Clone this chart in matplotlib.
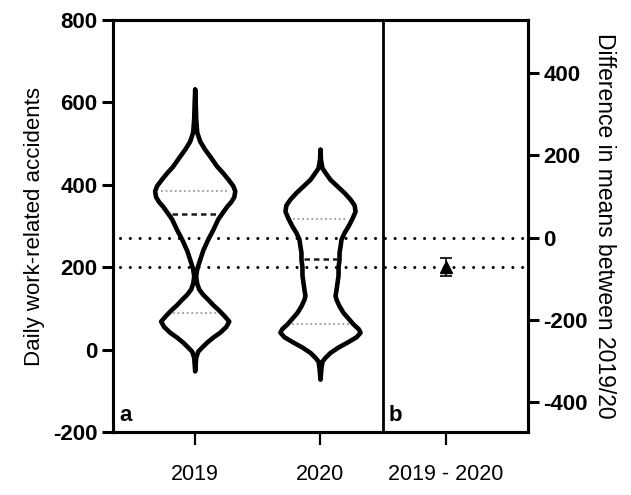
import numpy as np
import matplotlib
matplotlib.use("Agg")
import matplotlib.pyplot as plt

plt.rcParams['font.family'] = ['Liberation Sans', 'DejaVu Sans']
plt.rcParams['axes.unicode_minus'] = False

# ---- data ----
categories = ["2019", "2020", "2019 - 2020"]

# violin outlines: value levels and half-widths (in pixel-like units, /125 -> x units)
v2019_y = [631, 600, 560, 527, 505, 485, 465, 444, 428, 413, 397, 384, 370, 358, 347, 330,
           316, 290, 267, 240, 218, 195, 177, 160, 146, 133, 121, 108, 97, 82, 68, 55, 41,
           29, 17, 5, -5, -20, -53]
v2019_w = [0, 0.5, 1, 2, 5, 10, 16, 22, 28, 33, 38, 40, 39, 36, 32, 27,
           23, 18, 13, 8, 5, 2, 1, 2, 4, 8, 13, 18, 23, 29, 34, 31, 25,
           18, 12, 7, 3, 1, 0]
v2020_y = [485, 460, 440, 429, 412, 396, 380, 364, 350, 335, 318, 299, 283, 267, 250, 235,
           218, 200, 180, 162, 145, 130, 121, 105, 89, 75, 61, 50, 41, 30, 17, 5, -8, -20,
           -29, -45, -73]
v2020_w = [0, 0.5, 2, 5, 10, 17, 24, 30, 34, 35, 32, 28, 24, 21, 20, 19,
           19, 18, 18, 17, 16, 15, 16, 19, 23, 28, 33, 38, 40, 36, 27, 18, 10, 5,
           2, 1, 0]

quart2019 = [90, 330, 384]   # Q1, median, Q3
quart2020 = [61, 220, 317]

mean2019 = 272
mean2020 = 200
diff_mean = -72
diff_err = 22

W, H = 631, 495
fig = plt.figure(figsize=(W / 100, H / 100), dpi=100)
ax = fig.add_axes([113 / W, (H - 432) / H, (528 - 113) / W, (432 - 20) / H])

xmin, xmax = -0.656, 2.656
ax.set_xlim(xmin, xmax)
ax.set_ylim(-200, 800)

px = 125.0

def draw_violin(c, ys, ws, quarts):
    ys = np.array(ys, float)
    ws = np.array(ws, float) / px
    xs = np.concatenate([c + ws, (c - ws)[::-1]])
    yy = np.concatenate([ys, ys[::-1]])
    ax.plot(xs, yy, color='black', lw=3.3, solid_joinstyle='round', solid_capstyle='round', zorder=3)
    yi = ys[::-1]
    wi = ws[::-1]
    for k, q in enumerate(quarts):
        hw = np.interp(q, yi, wi) * 0.85
        if k == 1:
            ax.plot([c - hw, c + hw], [q, q], color='#1a1a1a', lw=1.8, ls=(0, (2.2, 1.6)), zorder=2)
        else:
            ax.plot([c - hw, c + hw], [q, q], color='#8a8a8a', lw=1.1, ls=(0, (1.2, 1.8)), zorder=2)

draw_violin(0, v2019_y, v2019_w, quart2019)
draw_violin(1, v2020_y, v2020_w, quart2020)

# mean reference lines
for m in [mean2019, mean2020]:
    ax.plot([-0.6, xmax], [m, m], color='black', lw=2.2, ls=(0, (0.01, 3.2)),
            dash_capstyle='round', zorder=2)

# divider
ax.axvline(1.5, color='black', lw=2, zorder=4)

# right axis
ax2 = ax.twinx()
ax2.set_ylim(-200 - mean2019, 800 - mean2019)
ax2.errorbar([2], [diff_mean], yerr=[diff_err], fmt='^', color='black', ms=8,
             capsize=4, elinewidth=1.2, capthick=1.2, zorder=5)

ax.set_xticks([0, 1, 2])
ax.set_xticklabels(categories)
ax.set_yticks([-200, 0, 200, 400, 600, 800])
ax2.set_yticks([-400, -200, 0, 200, 400])

for a in (ax, ax2):
    for s in a.spines.values():
        s.set_linewidth(2.2)
        s.set_color('black')

ax.tick_params(axis='y', length=8, width=2.2, pad=3, labelsize=16)
ax.tick_params(axis='x', length=9, width=1.6, pad=14, labelsize=15.5)
ax2.tick_params(axis='y', length=8, width=2.2, pad=3, labelsize=16)
for lab in ax.get_yticklabels() + ax2.get_yticklabels():
    lab.set_fontweight('bold')

ax.set_ylabel("Daily work-related accidents", fontsize=16, labelpad=6)
ax2.set_ylabel("Difference in means between 2019/20", fontsize=16.5, rotation=270, labelpad=20)

ax.text(0.015, 0.015, "a", transform=ax.transAxes, fontsize=16, fontweight='bold', va='bottom', ha='left')
ax.text(0.663, 0.015, "b", transform=ax.transAxes, fontsize=16, fontweight='bold', va='bottom', ha='left')

fig.savefig("out.png", dpi=100)
